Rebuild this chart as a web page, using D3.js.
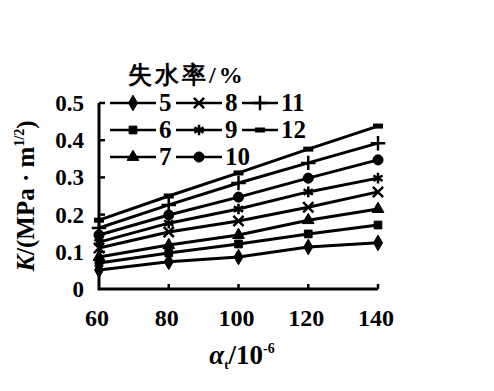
<!DOCTYPE html>
<html>
<head>
<meta charset="utf-8">
<script src="https://cdn.jsdelivr.net/npm/d3@7"></script>
<style>
body { margin: 0; background: #fff; }
text { font-family: "Liberation Serif", "DejaVu Serif", serif; font-weight: bold; fill: #000; }
</style>
</head>
<body>
<svg width="494" height="391"></svg>
<script>
var xs = [60, 80, 100, 120, 140]
var rates = [5, 6, 7, 8, 9, 10, 11, 12]
var values = [
  [0.051, 0.073, 0.086, 0.113, 0.124],
  [0.070, 0.097, 0.121, 0.148, 0.172],
  [0.086, 0.118, 0.145, 0.185, 0.215],
  [0.110, 0.153, 0.183, 0.220, 0.261],
  [0.126, 0.177, 0.215, 0.261, 0.298],
  [0.145, 0.199, 0.247, 0.298, 0.347],
  [0.164, 0.226, 0.285, 0.339, 0.392],
  [0.185, 0.250, 0.312, 0.376, 0.438]
]
var yTicks = [0, 0.1, 0.2, 0.3, 0.4, 0.5]
var markers = ['diamond', 'square', 'triangle', 'x', 'asterisk', 'circle', 'plus', 'dash']

var svg = d3.select('svg')
var x = d3.scaleLinear().domain([60, 140]).range([99, 378])
var y = d3.scaleLinear().domain([0, 0.5]).range([289, 103])

function marker(g, type) {
  var sym = {
    diamond: d3.symbol(d3.symbolDiamond, 70),
    square: d3.symbol(d3.symbolSquare, 60),
    triangle: d3.symbol(d3.symbolTriangle, 60),
    x: d3.symbol(d3.symbolX, 70),
    asterisk: d3.symbol(d3.symbolAsterisk, 80),
    circle: d3.symbol(d3.symbolCircle, 80),
    plus: d3.symbol(d3.symbolPlus, 70)
  }
  if (type == 'dash') {
    g.append('rect').attr('x', -5).attr('y', -2.5).attr('width', 10).attr('height', 5)
  } else {
    var stroked = type == 'x' || type == 'asterisk' || type == 'plus'
    g.append('path').attr('d', sym[type]())
      .attr('fill', stroked ? 'none' : '#000')
      .attr('stroke', '#000').attr('stroke-width', stroked ? 2.5 : 1)
  }
}

// axes
svg.append('path')
  .attr('d', 'M' + x(60) + ',' + y(0.5) + 'V' + y(0) + 'H' + x(140))
  .attr('fill', 'none').attr('stroke', '#000').attr('stroke-width', 3)

svg.selectAll('.xt').data(xs.slice(1)).enter().append('line')
  .attr('x1', function (d) { return x(d) }).attr('x2', function (d) { return x(d) })
  .attr('y1', y(0)).attr('y2', y(0) - 5)
  .attr('stroke', '#000').attr('stroke-width', 2.5)

svg.selectAll('.yt').data(yTicks.slice(1)).enter().append('line')
  .attr('x1', x(60)).attr('x2', x(60) + 6)
  .attr('y1', function (d) { return y(d) }).attr('y2', function (d) { return y(d) })
  .attr('stroke', '#000').attr('stroke-width', 2.5)

svg.selectAll('.xl').data(xs).enter().append('text')
  .attr('x', function (d) { return x(d) - 2 }).attr('y', 326)
  .attr('text-anchor', 'middle').attr('font-size', 24)
  .text(function (d) { return d })

svg.selectAll('.yl').data(yTicks).enter().append('text')
  .attr('x', 84).attr('y', function (d) { return y(d) + 8 })
  .attr('text-anchor', 'end').attr('font-size', 23)
  .text(function (d) { return d == 0 ? '0' : d.toFixed(1) })

// axis titles
var yt = svg.append('text')
  .attr('transform', 'translate(34,196) rotate(-90)')
  .attr('text-anchor', 'middle').attr('font-size', 25)
yt.append('tspan').attr('font-style', 'italic').text('K')
yt.append('tspan').text('/(MPa · m')
yt.append('tspan').attr('font-size', 14).attr('dy', -10).text('1/2')
yt.append('tspan').attr('dy', 10).text(')')

var xt = svg.append('text')
  .attr('x', 242).attr('y', 364)
  .attr('text-anchor', 'middle').attr('font-size', 27)
xt.append('tspan').attr('font-style', 'italic').text('α')
xt.append('tspan').attr('font-size', 13).attr('dy', 5).text('t')
xt.append('tspan').attr('dy', -5).text('/10')
xt.append('tspan').attr('font-size', 14).attr('dy', -11).text('-6')

// series
var line = d3.line()
  .x(function (d, i) { return x(xs[i]) })
  .y(function (d) { return y(d) })

var series = svg.selectAll('.s').data(values).enter().append('g')
series.append('path')
  .attr('d', line)
  .attr('fill', 'none').attr('stroke', '#000').attr('stroke-width', 3)
series.each(function (vals, si) {
  var g = d3.select(this)
  vals.forEach(function (v, i) {
    marker(g.append('g').attr('transform', 'translate(' + x(xs[i]) + ',' + y(v) + ')'), markers[si])
  })
})

// legend
svg.append('text')
  .attr('x', 128).attr('y', 83)
  .attr('font-family', '"Noto Sans CJK SC"').attr('font-weight', 900)
  .attr('font-size', 24).attr('letter-spacing', 3)
  .text('失水率/%')

var colX = [110, 176, 242]
var rowY = [103, 130, 157]
rates.forEach(function (r, i) {
  var cx = colX[Math.floor(i / 3)], cy = rowY[i % 3]
  var lw = i >= 6 ? 36 : 46
  svg.append('line')
    .attr('x1', cx).attr('x2', cx + lw).attr('y1', cy).attr('y2', cy)
    .attr('stroke', '#000').attr('stroke-width', 2.5)
  marker(svg.append('g').attr('transform', 'translate(' + (cx + lw / 2) + ',' + cy + ')'), markers[i])
  svg.append('text')
    .attr('x', cx + lw + 3).attr('y', cy + 8)
    .attr('font-size', 25)
    .text(r)
})
</script>
</body>
</html>
